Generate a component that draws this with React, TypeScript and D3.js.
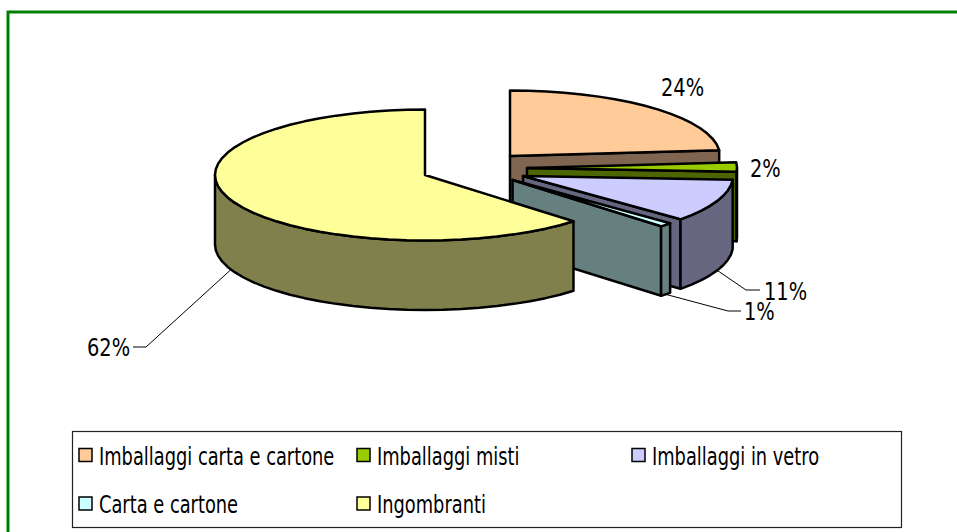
import React from "react";
import * as d3 from "d3";

const categories = ["Imballaggi carta e cartone", "Imballaggi misti", "Imballaggi in vetro", "Carta e cartone", "Ingombranti"];
const values = [23.6, 2.3, 10.6, 1.0, 62.5];
const labels = ["24%", "2%", "11%", "1%", "62%"];
const topColors = ["#FFCC99", "#99CC00", "#CCCCFF", "#CCFFFF", "#FFFF99"];
const wallColors = ["#806650", "#4D6600", "#666680", "#668080", "#80804D"];

// layout (exploded apex of each slice)
const apexX = [510, 527, 523, 512.6, 425];
const apexY = [156, 168, 176, 180, 175];
const RX = 210, RY = 65.5, DEPTH = 69.5;
const FONT = "'DejaVu Sans', sans-serif";

const rim = (i: number, a: number, dy = 0): [number, number] => [
  apexX[i] + RX * Math.sin(a),
  apexY[i] - RY * Math.cos(a) + dy,
];
const toLine = d3.line<[number, number]>().curve(d3.curveLinear);

const arcAngles = (a0: number, a1: number) => {
  const step = (5 * Math.PI) / 180;
  const n = Math.max(1, Math.ceil((a1 - a0) / step));
  return d3.range(n + 1).map((k) => a0 + ((a1 - a0) * k) / n);
};

const arcs = d3.pie<number>().sort(null)(values);

function Txt({ x, y, s, size, sx }: { x: number; y: number; s: string; size: number; sx: number }) {
  return (
    <text transform={`translate(${x},${y}) scale(${sx},1)`} fontFamily={FONT} fontSize={size} fill="#000">
      {s}
    </text>
  );
}

function Slice({ i }: { i: number }) {
  const { startAngle: a0, endAngle: a1 } = arcs[i];
  const apex: [number, number] = [apexX[i], apexY[i]];
  const top = toLine([apex, ...arcAngles(a0, a1).map((a) => rim(i, a))])! + "Z";
  // visible outer wall: the part of the rim in the front half of the ellipse
  const w0 = Math.max(a0, Math.PI / 2);
  const w1 = Math.min(a1, (3 * Math.PI) / 2);
  const outer =
    w1 > w0
      ? toLine([
          ...arcAngles(w0, w1).map((a) => rim(i, a)),
          ...arcAngles(w0, w1).reverse().map((a) => rim(i, a, DEPTH)),
        ])! + "Z"
      : null;
  // radial cut at the end angle faces the viewer when it points to the right half
  const cut =
    a1 < Math.PI
      ? toLine([apex, rim(i, a1), rim(i, a1, DEPTH), [apex[0], apex[1] + DEPTH]])! + "Z"
      : null;
  const common = { stroke: "#000", strokeWidth: 2.5, strokeLinejoin: "round" as const };
  return (
    <g>
      {cut && <path d={cut} fill={wallColors[i]} {...common} />}
      {outer && <path d={outer} fill={wallColors[i]} {...common} />}
      <path d={top} fill={topColors[i]} {...common} />
    </g>
  );
}

// leader elbows; null = no leader
const leaderElbow: ([number, number, number] | null)[] = [null, null, [746, 290, 760], [728, 311, 741], [146, 347, 133]];
const labelX = [661, 750, 764, 744, 87];
const labelY = [96, 177, 300, 320, 356];
const legendX = [79, 357, 632, 79, 357];
const legendY = [448.5, 448.5, 448.5, 497, 497];

export default function App() {
  return (
    <svg width={957} height={532} style={{ position: "absolute", left: 0, top: 0, display: "block" }}>
      <rect width={957} height={532} fill="#fff" />
      <path d="M8,532V12H957" fill="none" stroke="#008000" strokeWidth={3} />
      {values.map((_, i) => (
        <Slice key={i} i={i} />
      ))}
      {leaderElbow.map((e, i) => {
        if (!e) return null;
        const mid = (arcs[i].startAngle + arcs[i].endAngle) / 2;
        const p = rim(i, mid, DEPTH);
        return <path key={i} d={toLine([p, [e[0], e[1]], [e[2], e[1]]])!} fill="none" stroke="#000" strokeWidth={1} />;
      })}
      {labels.map((s, i) => (
        <Txt key={i} x={labelX[i]} y={labelY[i]} s={s} size={25} sx={0.776} />
      ))}
      <rect x={72.5} y={431.5} width={829} height={96} fill="#fff" stroke="#222" strokeWidth={1.2} />
      {categories.map((c, i) => (
        <g key={c}>
          <rect x={legendX[i]} y={legendY[i]} width={13} height={13} fill={topColors[i]} stroke="#000" strokeWidth={1.5} />
          <Txt x={legendX[i] + 20} y={legendY[i] + 16} s={c} size={24} sx={0.743} />
        </g>
      ))}
    </svg>
  );
}
